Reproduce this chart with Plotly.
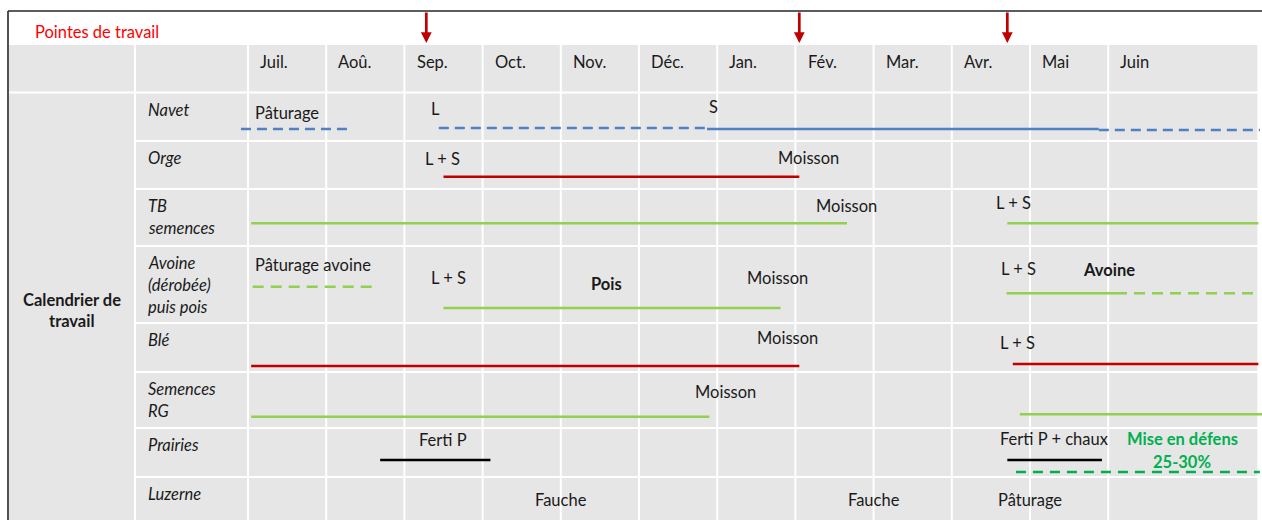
import plotly.graph_objects as go

# ---------------- data ----------------
months = ["Juil.", "Aoû.", "Sep.", "Oct.", "Nov.", "Déc.", "Jan.", "Fév.", "Mar.", "Avr.", "Mai", "Juin"]
month_end = 12.92  # end of the last (wider) column, in months from 1 July

crop_lines = [["Navet"], ["Orge"], ["TB", "semences"], ["Avoine", "(dérobée)", "puis pois"],
              ["Blé"], ["Semences", "RG"], ["Prairies"], ["Luzerne"]]

# work peaks (months from 1 July)
peaks = [2.28, 7.05, 9.71]

# segments: crop index, start month, end month, kind
seg_crop  = [0, 0, 0, 0, 1, 2, 2, 3, 3, 3, 3, 4, 4, 5, 5, 6, 6, 6]
seg_start = [-0.09, 2.44, 5.87, 10.88, 2.50, 0.04, 9.71, 0.06, 2.50, 9.70, 11.33, 0.04, 9.78, 0.04, 9.87, 1.69, 9.71, 9.82]
seg_end   = [1.30, 5.87, 10.88, 12.94, 7.05, 7.66, 12.92, 1.64, 6.81, 11.24, 12.92, 7.05, 12.92, 5.90, 12.97, 3.10, 10.92, 12.94]
seg_kind  = ["blue_dash", "blue_dash", "blue", "blue_dash", "red", "green", "green", "green_dash", "green",
             "green", "green_dash", "red", "red", "green", "green", "black", "black", "dgreen_dash"]

# labels inside cells: crop index, month position, text
lab_crop = [0, 0, 0, 1, 1, 2, 2, 3, 3, 3, 3, 3, 3, 4, 4, 5, 6, 6, 6, 6, 7, 7, 7]
lab_x    = [0.06, 2.40, 5.95, 2.49, 7.17, 7.65, 9.79, 0.06, 2.56, 4.58, 6.77, 9.85, 11.01, 6.90, 9.84,
            6.10, 2.49, 10.31, 11.95, 11.95, 4.00, 8.00, 10.00]
lab_text = ["Pâturage", "L", "S", "L + S", "Moisson", "Moisson", "L + S", "Pâturage avoine", "L + S",
            "<b>Pois</b>", "Moisson", "L + S", "<b>Avoine</b>", "Moisson", "L + S", "Moisson", "Ferti P",
            "Ferti P + chaux", "<b>Mise en défens</b>", "<b>25-30%</b>", "Fauche", "Fauche", "Pâturage"]
lab_kind = ["left", "c", "c", "c", "c", "c", "c", "left", "c", "c", "c", "c", "c", "c", "c", "c", "c",
            "c", "green", "green", "c", "c", "c"]

# ---------------- layout constants (pixels) ----------------
W, H = 1262, 520
X0_PX, MONTH_PX = 248.0, 78.2


def mx(px):
    return (px - X0_PX) / MONTH_PX


row_tops = [93, 141, 189, 246, 323, 372, 428, 477]
seg_dy = [36, 35, 36, 37, 35.7, 34.3, 34.3, 40.7, 62, 47.3, 47.3, 43, 41, 44.7, 42.3, 32, 32, 44]
lab_dy = [19.7, 16.3, 14.3, 18, 17.3, 17, 13.7, 19, 32.3, 38.3, 32.3, 23.3, 24, 15.3, 20.3,
          19.7, 12, 11.3, 10.7, 33.7, 23, 23, 23]

styles = {
    "blue": dict(color="#4f81c4", dash="solid"),
    "blue_dash": dict(color="#4f81c4", dash="10px,6px"),
    "red": dict(color="#c00000", dash="solid"),
    "green": dict(color="#92d050", dash="solid"),
    "green_dash": dict(color="#92d050", dash="11px,7px"),
    "black": dict(color="#000000", dash="solid"),
    "dgreen_dash": dict(color="#00b050", dash="10px,7px"),
}

FONT = "Lato"
FS = 16.5
TXT = "#1a1a1a"

fig = go.Figure()

# ---------------- background table ----------------
shapes = []
shapes.append(dict(type="rect", xref="x", yref="y", x0=mx(9), x1=mx(1258), y0=45, y1=H,
                   fillcolor="#e6e6e6", line=dict(width=0), layer="below"))
vlines = [mx(135)] + list(range(len(months))) + [month_end]
for v in vlines:
    shapes.append(dict(type="line", xref="x", yref="y", x0=v, x1=v, y0=45, y1=H,
                       line=dict(color="white", width=2), layer="below"))
shapes.append(dict(type="line", xref="x", yref="y", x0=mx(9), x1=mx(1258), y0=92.5, y1=92.5,
                   line=dict(color="white", width=2), layer="below"))
for t in row_tops[1:]:
    shapes.append(dict(type="line", xref="x", yref="y", x0=mx(135), x1=mx(1258), y0=t, y1=t,
                       line=dict(color="white", width=2), layer="below"))
# outer frame
shapes.append(dict(type="line", xref="x", yref="y", x0=mx(8), x1=mx(1265), y0=11, y1=11,
                   line=dict(color="#262626", width=1.6)))
shapes.append(dict(type="line", xref="x", yref="y", x0=mx(8), x1=mx(8), y0=11, y1=H + 5,
                   line=dict(color="#262626", width=1.6)))

# ---------------- segments ----------------
for c, s, e, k, dy in zip(seg_crop, seg_start, seg_end, seg_kind, seg_dy):
    y = row_tops[c] + dy
    st = styles[k]
    fig.add_trace(go.Scatter(x=[s, e], y=[y, y], mode="lines",
                             line=dict(color=st["color"], width=2.5, dash=st["dash"]),
                             hoverinfo="skip", showlegend=False))

annotations = []
# title
annotations.append(dict(x=mx(33), y=32, xref="x", yref="y", text="Pointes de travail", showarrow=False,
                        xanchor="left", yanchor="middle", font=dict(family=FONT, size=FS, color="#fe0000")))
# peaks arrows
for p in peaks:
    annotations.append(dict(x=p, y=43, xref="x", yref="y", ax=0, ay=-32, text="", showarrow=True,
                            arrowhead=2, arrowsize=0.8, arrowwidth=2.7, arrowcolor="#c00000"))
# month header
for i, m in enumerate(months):
    annotations.append(dict(x=i + 0.13, y=62, xref="x", yref="y", text=m, showarrow=False,
                            xanchor="left", yanchor="middle", font=dict(family=FONT, size=FS, color=TXT)))
# big row label
for j, t in enumerate(["Calendrier de", "travail"]):
    annotations.append(dict(x=mx(72), y=299.5 + 21 * j, xref="x", yref="y", text="<b>" + t + "</b>",
                            showarrow=False, xanchor="center", yanchor="middle",
                            font=dict(family=FONT, size=FS, color=TXT)))
# crop names
for r, lines in enumerate(crop_lines):
    for j, t in enumerate(lines):
        annotations.append(dict(x=mx(146), y=row_tops[r] + 17 + 22 * j, xref="x", yref="y",
                                text="<i>" + t + "</i>", showarrow=False, xanchor="left", yanchor="middle",
                                font=dict(family=FONT, size=FS, color=TXT)))
# cell labels
for c, x, t, k, dy in zip(lab_crop, lab_x, lab_text, lab_kind, lab_dy):
    annotations.append(dict(x=x, y=row_tops[c] + dy, xref="x", yref="y", text=t, showarrow=False,
                            xanchor="left" if k == "left" else "center", yanchor="middle",
                            font=dict(family=FONT, size=FS, color="#00b050" if k == "green" else TXT)))

fig.update_layout(
    width=W, height=H, autosize=False,
    margin=dict(l=0, r=0, t=0, b=0, pad=0),
    paper_bgcolor="white", plot_bgcolor="white",
    xaxis=dict(range=[mx(0), mx(W)], visible=False, fixedrange=True),
    yaxis=dict(range=[H, 0], visible=False, fixedrange=True),
    shapes=shapes, annotations=annotations,
)

fig.write_html("out.html", config={"displayModeBar": False},
               post_script="document.body.style.margin='0';document.body.style.overflow='hidden';")
